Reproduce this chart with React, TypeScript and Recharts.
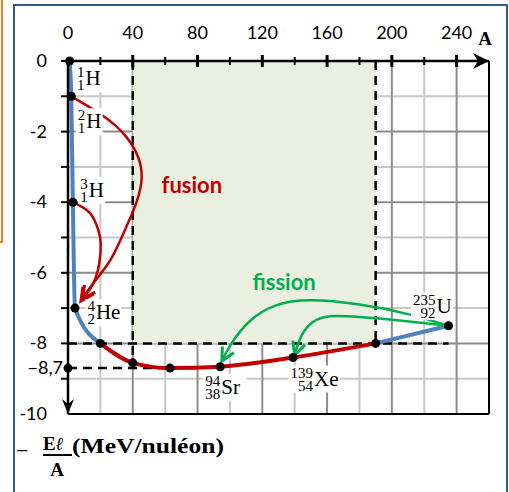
import React from 'react';
import {
  ComposedChart,
  Line,
  Scatter,
  XAxis,
  YAxis,
  CartesianGrid,
  ReferenceArea,
  ReferenceLine,
  ReferenceDot,
} from 'recharts';

// Aston curve: A (nucleons) vs -El/A (MeV/nucleon)
const lightA = [1, 2, 3, 4.3, 20];
const lightE = [0, -1, -4, -7, -8];
const stableA = [20, 40, 63, 94, 139, 190];
const stableE = [-8, -8.55, -8.7, -8.66, -8.4, -8];
const heavyA = [190, 235];
const heavyE = [-8, -7.5];

// labelled nuclei
const isoSym = ['H', 'H', 'H', 'He', 'Sr', 'Xe', 'U'];
const isoMass = ['1', '2', '3', '4', '94', '139', '235'];
const isoZ = ['1', '1', '1', '2', '38', '54', '92'];
const isoA = [1, 2, 3, 4.3, 94, 139, 235];
const isoE = [0, -1, -4, -7, -8.66, -8.4, -7.5];

// fusion / fission arrows (paths)
const fusionA1 = [2, 20, 36, 45.5, 36, 26, 15.5, 8];
const fusionE1 = [-1, -1.5, -2.15, -3.3, -4.7, -5.65, -6.3, -6.8];
const fusionA2 = [3, 13.6, 18.7, 20.2, 19.3, 15.6, 9];
const fusionE2 = [-4, -4.31, -4.79, -5.16, -5.73, -6.3, -6.75];
const fissionA1 = [235, 210, 180, 150, 128, 112, 101, 95];
const fissionE1 = [-7.5, -7.17, -6.9, -6.78, -6.93, -7.38, -8.0, -8.5];
const fissionA2 = [235, 205, 180, 162, 151, 144, 140];
const fissionE2 = [-7.5, -7.35, -7.25, -7.23, -7.4, -7.8, -8.33];

// axes & grid
const xTicks = [0, 20, 40, 60, 80, 100, 120, 140, 160, 180, 200, 220, 240, 260];
const yTicks = [0, -1, -2, -3, -4, -5, -6, -7, -8, -9, -10, -8.7];
const gridXMinor = [20, 60, 100, 140, 180, 220];
const gridXMajor = [40, 80, 120, 160, 200, 240];
const gridYMinor = [-1, -3, -5, -7, -9];
const gridYMajor = [-2, -4, -6, -8];

const SANS = 'Lato, "Open Sans", sans-serif';
const SERIF = '"Liberation Serif", "DejaVu Serif", serif';
const RED = '#c00000';
const GREEN = '#00b050';
const BLUE = '#4f81bd';

const zip = (a: number[], e: number[]) => a.map((v, i) => ({ a: v, e: e[i] }));

const lightData = zip(lightA, lightE);
const stableData = zip(stableA, stableE);
const heavyData = zip(heavyA, heavyE);
const dotData = [...lightData, ...stableData.slice(1), ...heavyData.slice(1)];
const isoData = isoA.map((a, i) => ({ a, e: isoE[i], i }));

// label placement around each dot (px)
const isoOffset = [
  [15, 24],
  [14, 32],
  [15, -5],
  [20, 11],
  [0, 27],
  [20, 28],
  [-13, -13],
];

const XTick = ({ x, y, payload }: any) => {
  const v = payload.value;
  if (v === 260) {
    return (
      <g>
        <path d={`M${x - 16},${y - 8} L${x},${y} L${x - 16},${y + 8} L${x - 11},${y} Z`} fill="#000" />
        <text x={x - 4} y={y - 16} textAnchor="middle" fontFamily={SERIF} fontWeight="bold" fontSize={19}>
          A
        </text>
      </g>
    );
  }
  const major = v % 40 === 0;
  return (
    <g>
      {v > 0 && (
        <line x1={x} x2={x} y1={y - (major ? 6 : 4)} y2={y + (major ? 6 : 4)} stroke="#000" strokeWidth={major ? 3 : 2} />
      )}
      {major && (
        <text x={x} y={y - 22} textAnchor="middle" fontFamily={SANS} fontSize={18} fill="#000">
          {v}
        </text>
      )}
    </g>
  );
};

const YTick = ({ x, y, payload }: any) => {
  const v = payload.value;
  if (v === -8.7) {
    return (
      <g>
        <circle cx={x} cy={y} r={4.5} fill="#000" />
        <text x={x - 5} y={y + 6} textAnchor="end" fontFamily={SANS} fontSize={18} fill="#000">
          −8,7
        </text>
      </g>
    );
  }
  const even = Math.round(v) % 2 === 0;
  return (
    <g>
      {v === -10 ? (
        <path d={`M${x - 6},${y - 15} L${x},${y} L${x + 6},${y - 15} L${x},${y - 10} Z`} fill="#000" />
      ) : (
        <line x1={x - 7} x2={x} y1={y} y2={y} stroke="#000" strokeWidth={2} />
      )}
      {even && (
        <text x={x - 21} y={y + 6} textAnchor="end" fontFamily={SANS} fontSize={18} fill="#000">
          {v}
        </text>
      )}
    </g>
  );
};

const AxisTitle = (props: any) => {
  const vb = props.viewBox || { x: 0, y: 61, width: 68, height: 353 };
  const b = vb.y + vb.height;
  return (
    <g fontFamily={SERIF} fill="#000">
      <text x={16} y={b + 44} fontSize={22}>−</text>
      <text x={43} y={b + 36} fontSize={19} fontWeight="bold">
        E<tspan fontStyle="italic" fontSize={18}>ℓ</tspan>
      </text>
      <rect x={43} y={b + 40} width={29} height={2} fill="#000" />
      <text x={57} y={b + 62} textAnchor="middle" fontSize={19} fontWeight="bold">A</text>
      <text x={72} y={b + 39} fontSize={21} fontWeight="bold" textLength={152} lengthAdjust="spacingAndGlyphs">
        (MeV/nuléon)
      </text>
    </g>
  );
};

const Dot = ({ cx, cy }: any) => <circle cx={cx} cy={cy} r={4.5} fill="#000" />;

const IsoLabel = ({ cx, cy, payload }: any) => {
  const i = payload.i;
  const [dx, dy] = isoOffset[i];
  const x0 = cx + dx;
  const yb = cy + dy;
  const sw = Math.max(isoMass[i].length, isoZ[i].length) * 7.5;
  const symW = isoSym[i].split('').reduce((s, c) => s + (c === c.toUpperCase() ? 14.5 : 9), 0);
  return (
    <g fontFamily={SERIF} fill="#000">
      <rect x={x0 - sw - 2} y={yb - 20} width={sw + symW + 5} height={27} fill="#fff" />
      <text x={x0} y={yb - 8} textAnchor="end" fontSize={15}>{isoMass[i]}</text>
      <text x={x0} y={yb + 5} textAnchor="end" fontSize={15}>{isoZ[i]}</text>
      <text x={x0 + 1} y={yb} fontSize={21}>{isoSym[i]}</text>
    </g>
  );
};

const arrowTip = (color: string) => (props: any) => {
  const { cx, cy, index, points } = props;
  if (!points || index !== points.length - 1) return <g key={`d-${index}`} />;
  const p = points[index - 1];
  const vx = cx - p.x;
  const vy = cy - p.y;
  const len = Math.hypot(vx, vy) || 1;
  const ux = vx / len;
  const uy = vy / len;
  const L = 13;
  const W = 6.5;
  const x1 = cx - L * ux - W * uy;
  const y1 = cy - L * uy + W * ux;
  const x2 = cx - L * ux + W * uy;
  const y2 = cy - L * uy - W * ux;
  return (
    <polyline
      key={`d-${index}`}
      points={`${x1},${y1} ${cx},${cy} ${x2},${y2}`}
      fill="none"
      stroke={color}
      strokeWidth={3}
      strokeLinejoin="miter"
    />
  );
};

const CurveText = (text: string, color: string) => ({ cx, cy }: any) => (
  <text x={cx} y={cy} textAnchor="middle" fontFamily={SANS} fontWeight="bold" fontSize={22} fill={color}>
    {text}
  </text>
);

export default function App() {
  return (
    <div style={{ position: 'absolute', left: 0, top: 0, width: 509, height: 492, overflow: 'hidden', background: '#fff' }}>
      <div style={{ position: 'absolute', left: -20, top: -20, width: 23, height: 263, border: '2px solid #f07c22', boxSizing: 'border-box' }} />
      <div style={{ position: 'absolute', left: 13, top: 4, width: 495, height: 520, border: '2px solid #2f5a93', boxSizing: 'border-box' }} />
      <div style={{ position: 'absolute', left: 0, top: 0 }}>
        <ComposedChart width={509} height={492} margin={{ top: 31, right: 20, bottom: 78, left: 0 }}>
          <CartesianGrid verticalValues={gridXMinor} horizontalValues={gridYMinor} stroke="#c8c8c8" strokeWidth={2} />
          <CartesianGrid verticalValues={gridXMajor} horizontalValues={gridYMajor} stroke="#8c8c8c" strokeWidth={2} />
          <XAxis
            type="number"
            dataKey="a"
            orientation="top"
            domain={[0, 260]}
            ticks={xTicks}
            interval={0}
            height={30}
            tickSize={0}
            tickMargin={0}
            tickLine={false}
            axisLine={{ stroke: '#000', strokeWidth: 2.5 }}
            tick={<XTick />}
          />
          <YAxis
            type="number"
            dataKey="e"
            domain={[-10, 0]}
            ticks={yTicks}
            interval={0}
            width={68}
            tickSize={0}
            tickMargin={0}
            tickLine={false}
            axisLine={{ stroke: '#000', strokeWidth: 2.5 }}
            tick={<YTick />}
            label={AxisTitle}
          />
          <ReferenceArea x1={40} x2={190} y1={-8} y2={0} fill="#ebefdf" fillOpacity={1} stroke="none" />
          <ReferenceLine x={260} stroke="#000" strokeWidth={2} />
          <ReferenceLine y={-10} stroke="#000" strokeWidth={2} />
          <ReferenceLine segment={[{ x: 40, y: 0 }, { x: 40, y: -8.55 }]} stroke="#000" strokeWidth={2.5} strokeDasharray="9 6" />
          <ReferenceLine segment={[{ x: 190, y: 0 }, { x: 190, y: -8 }]} stroke="#000" strokeWidth={2.5} strokeDasharray="9 6" />
          <ReferenceLine segment={[{ x: 0, y: -8 }, { x: 235, y: -8 }]} stroke="#000" strokeWidth={2.5} strokeDasharray="9 6" />
          <ReferenceLine segment={[{ x: 0, y: -8.7 }, { x: 63, y: -8.7 }]} stroke="#000" strokeWidth={2.5} strokeDasharray="9 6" />

          <Line data={lightData} dataKey="e" type="monotone" stroke={BLUE} strokeWidth={4} dot={false} isAnimationActive={false} />
          <Line data={stableData} dataKey="e" type="monotone" stroke={RED} strokeWidth={4} dot={false} isAnimationActive={false} />
          <Line data={heavyData} dataKey="e" type="linear" stroke={BLUE} strokeWidth={4} dot={false} isAnimationActive={false} />

          <Line data={zip(fusionA1, fusionE1)} dataKey="e" type="natural" stroke={RED} strokeWidth={2.5} dot={arrowTip(RED)} isAnimationActive={false} />
          <Line data={zip(fusionA2, fusionE2)} dataKey="e" type="natural" stroke={RED} strokeWidth={2.5} dot={arrowTip(RED)} isAnimationActive={false} />
          <Line data={zip(fissionA1, fissionE1)} dataKey="e" type="natural" stroke={GREEN} strokeWidth={2.5} dot={arrowTip(GREEN)} isAnimationActive={false} />
          <Line data={zip(fissionA2, fissionE2)} dataKey="e" type="natural" stroke={GREEN} strokeWidth={2.5} dot={arrowTip(GREEN)} isAnimationActive={false} />

          <Scatter data={isoData} shape={<IsoLabel />} isAnimationActive={false} />
          <Scatter data={dotData} shape={<Dot />} isAnimationActive={false} />

          <ReferenceDot x={76.5} y={-3.75} r={0} shape={CurveText('fusion', RED)} />
          <ReferenceDot x={133.5} y={-6.5} r={0} shape={CurveText('fission', GREEN)} />
        </ComposedChart>
      </div>
    </div>
  );
}
